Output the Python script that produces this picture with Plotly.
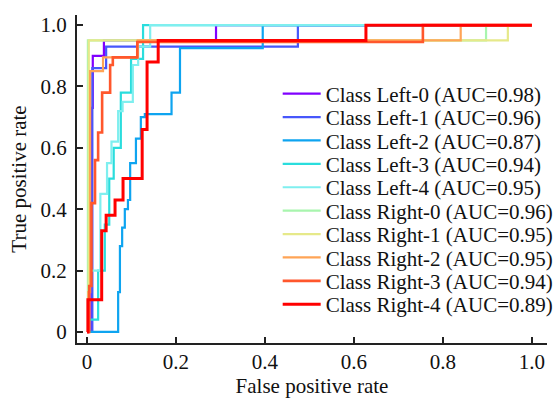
import plotly.graph_objects as go

class_names = ["Class Left-0", "Class Left-1", "Class Left-2", "Class Left-3", "Class Left-4",
               "Class Right-0", "Class Right-1", "Class Right-2", "Class Right-3", "Class Right-4"]
auc_values = [0.98, 0.96, 0.87, 0.94, 0.95, 0.96, 0.95, 0.95, 0.94, 0.89]

fpr_left0 = [0, 0.010, 0.010, 0.013, 0.013, 0.038, 0.038, 0.29, 0.29, 1]
tpr_left0 = [0, 0, 0.73, 0.73, 0.90, 0.90, 0.95, 0.95, 1, 1]

fpr_left1 = [0, 0.012, 0.012, 0.043, 0.043, 0.474, 0.474, 1]
tpr_left1 = [0, 0, 0.86, 0.86, 0.93, 0.93, 1, 1]

fpr_left2 = [0, 0.003, 0.070, 0.070, 0.074, 0.074, 0.079, 0.079, 0.085, 0.085, 0.092, 0.092, 0.097, 0.097,
             0.110, 0.110, 0.121, 0.121, 0.130, 0.130, 0.190, 0.190, 0.209, 0.209, 0.395, 0.395, 1]
tpr_left2 = [0, 0, 0, 0.13, 0.13, 0.28, 0.28, 0.34, 0.34, 0.40, 0.40, 0.43, 0.43, 0.55,
             0.55, 0.63, 0.63, 0.70, 0.70, 0.71, 0.71, 0.78, 0.78, 0.925, 0.925, 1, 1]

fpr_left3 = [0, 0.005, 0.005, 0.025, 0.025, 0.040, 0.040, 0.050, 0.050, 0.060, 0.060, 0.076, 0.076,
             0.099, 0.099, 0.126, 0.126, 1]
tpr_left3 = [0, 0, 0.04, 0.04, 0.20, 0.20, 0.35, 0.35, 0.50, 0.50, 0.60, 0.60, 0.78,
             0.78, 0.89, 0.89, 1, 1]

fpr_left4 = [0, 0.003, 0.003, 0.030, 0.030, 0.045, 0.045, 0.055, 0.055, 0.070, 0.070, 0.080, 0.080,
             0.103, 0.103, 0.115, 0.115, 0.142, 0.142, 1]
tpr_left4 = [0, 0, 0.20, 0.20, 0.45, 0.45, 0.55, 0.55, 0.62, 0.62, 0.72, 0.72, 0.75,
             0.75, 0.87, 0.87, 0.93, 0.93, 1, 1]

fpr_right0 = [0, 0.002, 0.002, 0.897, 0.897, 1]
tpr_right0 = [0, 0, 0.95, 0.95, 1, 1]

fpr_right1 = [0, 0.004, 0.004, 0.946, 0.946, 1]
tpr_right1 = [0, 0, 0.95, 0.95, 1, 1]

fpr_right2 = [0, 0.003, 0.003, 0.007, 0.007, 0.036, 0.036, 0.114, 0.114, 0.84, 0.84, 1]
tpr_right2 = [0, 0, 0.13, 0.13, 0.85, 0.85, 0.895, 0.895, 0.95, 0.95, 1, 1]

fpr_right3 = [0, 0.005, 0.005, 0.010, 0.010, 0.018, 0.018, 0.025, 0.025, 0.034, 0.034, 0.052, 0.052,
              0.058, 0.058, 0.113, 0.113, 0.755, 0.755, 1]
tpr_right3 = [0, 0, 0.15, 0.15, 0.42, 0.42, 0.56, 0.56, 0.65, 0.65, 0.78, 0.78, 0.87,
              0.87, 0.895, 0.895, 0.945, 0.945, 1, 1]

fpr_right4 = [0, 0.002, 0.002, 0.033, 0.033, 0.043, 0.043, 0.063, 0.063, 0.081, 0.081, 0.124, 0.124,
              0.135, 0.135, 0.160, 0.160, 0.627, 0.627, 1]
tpr_right4 = [0, 0, 0.105, 0.105, 0.33, 0.33, 0.38, 0.38, 0.43, 0.43, 0.50, 0.50, 0.66,
              0.66, 0.88, 0.88, 0.95, 0.95, 1, 1]

fprs = [fpr_left0, fpr_left1, fpr_left2, fpr_left3, fpr_left4,
        fpr_right0, fpr_right1, fpr_right2, fpr_right3, fpr_right4]
tprs = [tpr_left0, tpr_left1, tpr_left2, tpr_left3, tpr_left4,
        tpr_right0, tpr_right1, tpr_right2, tpr_right3, tpr_right4]

colors = ["#8000ff", "#4757fb", "#0ea4f0", "#2adddd", "#7fefef",
          "#a8f5ae", "#e6e98a", "#ffa456", "#ff572c", "#ff0000"]
widths = [2.2, 2.2, 2.2, 2.2, 2.2, 2.2, 2.2, 2.2, 2.6, 3]

tick_vals = [0, 0.2, 0.4, 0.6, 0.8, 1.0]
tick_text = ["0", "0.2", "0.4", "0.6", "0.8", "1.0"]

font = "Liberation Serif, Times New Roman, serif"
FS = 21

# plot area geometry in px (for legend placement only)
top_px, bottom_px = 15, 343
plot_h = bottom_px - top_px
first_center, spacing = 94, 23.4

fig = go.Figure()
layout_legends = {}
for i, (name, auc, x, y, c, w) in enumerate(zip(class_names, auc_values, fprs, tprs, colors, widths)):
    lg = "legend" if i == 0 else f"legend{i + 1}"
    fig.add_trace(go.Scatter(x=x, y=y, mode="lines", name=f"{name} (AUC={auc:.2f})",
                             line=dict(color=c, width=w), legend=lg))
    cy = first_center + spacing * i
    layout_legends[lg] = dict(x=0.427, y=(bottom_px - cy) / plot_h, xanchor="left", yanchor="middle",
                              bgcolor="rgba(0,0,0,0)", font=dict(size=FS, family=font, color="#111"),
                              itemwidth=38)

fig.update_layout(
    width=559, height=402,
    margin=dict(l=77, r=12, t=top_px, b=402 - bottom_px, autoexpand=False),
    plot_bgcolor="white", paper_bgcolor="white",
    font=dict(family=font, size=FS, color="#111"),
    showlegend=True,
    xaxis=dict(range=[-0.0225, 1.034], tickvals=tick_vals, ticktext=tick_text, automargin=False,
               ticks="inside", ticklen=6, tickwidth=1.5, tickcolor="#222", ticklabelstandoff=-1,
               showline=True, linecolor="#222", linewidth=2, showgrid=False, zeroline=False,
               title=dict(text="False positive rate", font=dict(size=FS), standoff=0)),
    yaxis=dict(range=[-0.036, 1.033], tickvals=tick_vals, ticktext=tick_text, automargin=False,
               ticks="inside", ticklen=6, tickwidth=1.5, tickcolor="#222", ticklabelstandoff=4,
               showline=True, linecolor="#222", linewidth=2, showgrid=False, zeroline=False,
               title=dict(text="True positive rate", font=dict(size=FS), standoff=8)),
    **layout_legends,
)
fig.write_html("out.html", config={"displayModeBar": False},
               post_script="document.body.style.margin='0';document.body.style.overflow='hidden';")
